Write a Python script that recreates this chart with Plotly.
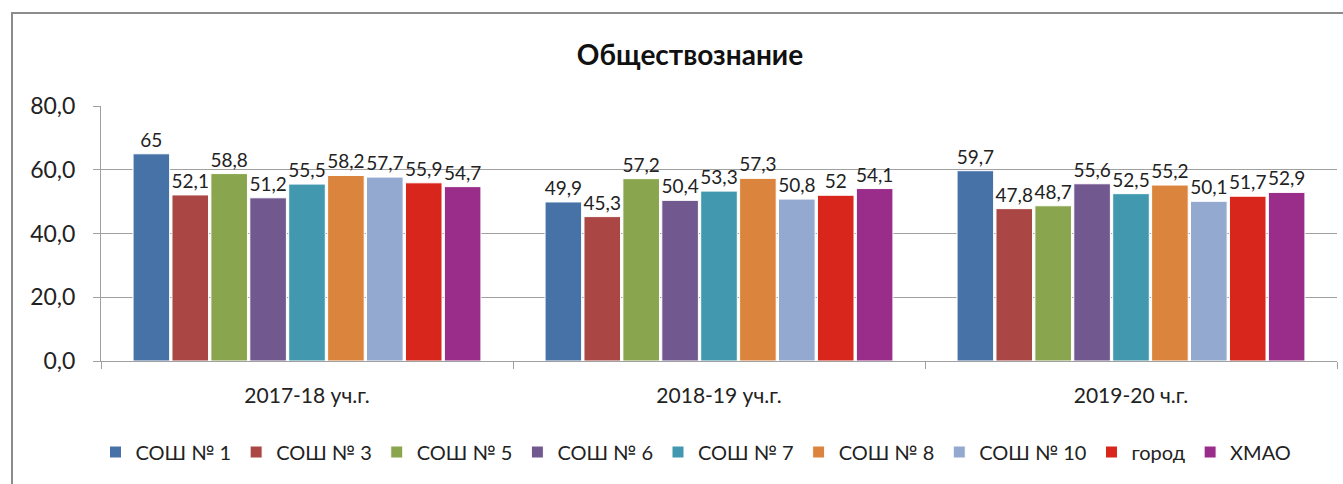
import plotly.graph_objects as go

categories = ["2017-18 уч.г.", "2018-19 уч.г.", "2019-20 ч.г."]
series_names = ["СОШ № 1", "СОШ № 3", "СОШ № 5", "СОШ № 6", "СОШ № 7",
                "СОШ № 8", "СОШ № 10", "город", "ХМАО"]
values = [
    [65, 49.9, 59.7],
    [52.1, 45.3, 47.8],
    [58.8, 57.2, 48.7],
    [51.2, 50.4, 55.6],
    [55.5, 53.3, 52.5],
    [58.2, 57.3, 55.2],
    [57.7, 50.8, 50.1],
    [55.9, 52, 51.7],
    [54.7, 54.1, 52.9],
]
colors = ["#4672A8", "#AA4644", "#89A54E", "#71588F", "#4198AF",
          "#DB843D", "#93A9CF", "#D9261C", "#9B2D8A"]
y_ticks = [0, 20, 40, 60, 80]

FONT = "Lato, 'Open Sans', sans-serif"

def fmt(v):
    return ("%g" % v).replace(".", ",")

fig = go.Figure()
for name, vals, col in zip(series_names, values, colors):
    fig.add_trace(go.Bar(
        name=name, x=categories, y=vals,
        marker=dict(color=col, line=dict(color="white", width=1)),
        text=[fmt(v) for v in vals],
        textposition="outside",
        constraintext="none",
        cliponaxis=False,
        textfont=dict(family=FONT, size=19, color="#222"),
    ))

W, H = 1343, 484
L, R, T, B = 101, 6, 106, 123
pw = W - L - R
ph = H - T - B

fig.update_layout(
    width=W, height=H,
    margin=dict(l=L, r=R, t=T, b=B),
    paper_bgcolor="white", plot_bgcolor="white",
    barmode="group", bargap=0.15, bargroupgap=0.06,
    separators=", ",
    font=dict(family=FONT, color="#222"),
    title=dict(text="<b>Обществознание</b>", x=(690 - L) / pw, xref="paper",
               xanchor="center",
               y=1 - 55 / H, yanchor="middle",
               font=dict(family=FONT, size=28, color="#111")),
    legend=dict(orientation="h", x=(696 - L) / pw, xanchor="center",
                y=(ph - (452 - T)) / ph, yanchor="middle",
                font=dict(family=FONT, size=20, color="#222"),
                itemwidth=30, traceorder="normal"),
    showlegend=True,
)
fig.update_yaxes(
    range=[0, 80], tickvals=y_ticks, tickformat=".1f",
    showgrid=True, gridcolor="#A0A0A0", gridwidth=1,
    showline=True, linecolor="#A0A0A0", linewidth=1,
    ticks="outside", ticklen=7, tickcolor="#A0A0A0",
    tickfont=dict(family=FONT, size=23, color="#222"),
    ticklabelstandoff=13,
    zeroline=False,
)
fig.update_xaxes(
    showline=True, linecolor="#A0A0A0", linewidth=1,
    ticks="outside", ticklen=7, tickcolor="#A0A0A0",
    tickson="boundaries",
    tickfont=dict(family=FONT, size=21, color="#222"),
    ticklabelstandoff=16,
)
# outer chart border
fig.add_shape(type="rect", xref="paper", yref="paper",
              x0=(12 - L) / pw, x1=(W + 3 - L) / pw,
              y0=-(H + 3 - (T + ph)) / ph, y1=(T + ph - 13) / ph,
              line=dict(color="#8C8C8C", width=2), layer="below")

fig.write_html("out.html", config={"displayModeBar": False},
               post_script="document.body.style.margin='0';")
